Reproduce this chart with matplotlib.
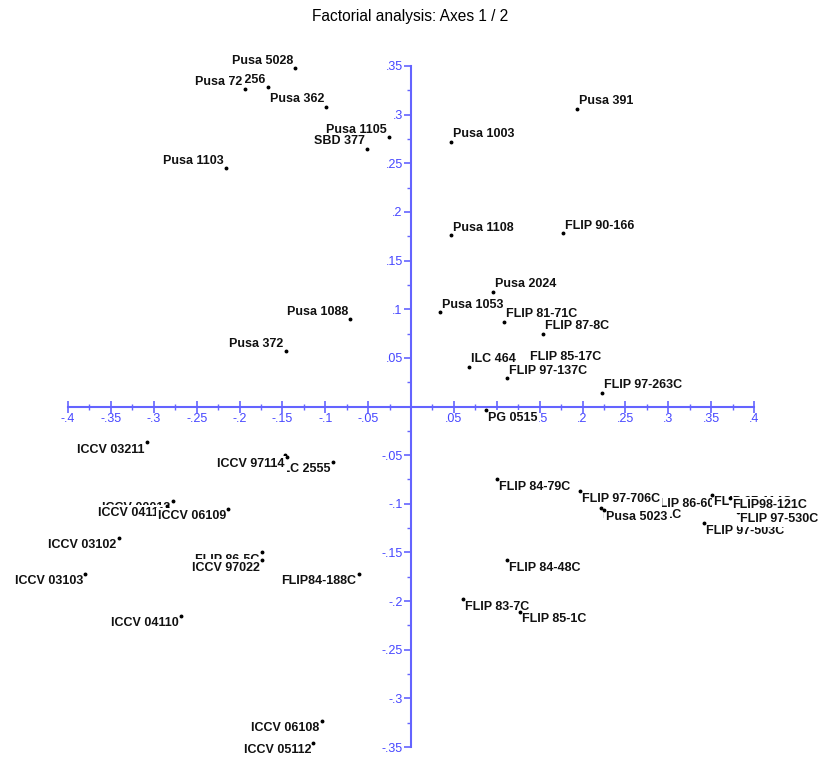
import numpy as np
import matplotlib
matplotlib.use("Agg")
from matplotlib import pyplot as plt
from matplotlib.ticker import MultipleLocator, FuncFormatter

# genotype scores on factorial axes 1 and 2 (drawing order matters for overlaps)
names = ["Pusa 5028", "Pusa 256", "Pusa 72", "Pusa 362", "Pusa 1105", "SBD 377",
         "Pusa 1103", "Pusa 1088", "Pusa 372", "Pusa 391", "Pusa 1003", "Pusa 1108",
         "FLIP 90-166", "Pusa 2024", "Pusa 1053", "FLIP 81-71C", "FLIP 87-8C",
         "ILC 464", "FLIP 85-17C", "FLIP 97-137C", "FLIP 97-263C", "PG 0515",
         "FLIP 84-79C", "FLIP 86-60C", "FLIP 97-706C", "FLIP 98-101C", "Pusa 5023",
         "FLIP 97-503C", "FLIP 97-530C", "FLIP 97-114C", "FLIP98-121C",
         "FLIP 84-48C", "FLIP 83-7C", "FLIP 85-1C", "ICCV 03211", "ILC 2555",
         "ICCV 95311", "ICCV 97114", "ICCV 00013", "ICCV 04111", "ICCV 06109",
         "ICCV 03102", "ICCV 03103", "FLIP 86-5C", "ICCV 97022", "FLIP84-188C",
         "ICCV 04110", "ICCV 06108", "ICCV 05112"]
ax1 = [-0.135, -0.167, -0.194, -0.099, -0.026, -0.051,
       -0.216, -0.071, -0.146, 0.194, 0.047, 0.047,
       0.177, 0.096, 0.034, 0.108, 0.154,
       0.068, 0.136, 0.112, 0.223, 0.087,
       0.100, 0.279, 0.197, 0.222, 0.225,
       0.342, 0.381, 0.351, 0.372,
       0.112, 0.061, 0.127, -0.308, -0.091,
       -0.147, -0.145, -0.278, -0.285, -0.213,
       -0.341, -0.380, -0.174, -0.174, -0.061,
       -0.268, -0.104, -0.114]
ax2 = [0.348, 0.328, 0.326, 0.308, 0.277, 0.265,
       0.245, 0.090, 0.057, 0.306, 0.272, 0.176,
       0.178, 0.118, 0.097, 0.087, 0.075,
       0.041, 0.043, 0.029, 0.014, -0.004,
       -0.075, -0.093, -0.087, -0.104, -0.106,
       -0.120, -0.108, -0.091, -0.094,
       -0.158, -0.198, -0.211, -0.037, -0.057,
       -0.050, -0.052, -0.097, -0.102, -0.105,
       -0.135, -0.172, -0.150, -0.158, -0.172,
       -0.215, -0.323, -0.346]

blue = "#6464ff"
font = "Liberation Sans"

fig = plt.figure(figsize=(8.21, 7.58), dpi=100)
ax = fig.add_axes([68/821, 11/758, 686/821, 681/758])
ax.set_xlim(-0.4, 0.4)
ax.set_ylim(-0.35, 0.35)

for s in ["top", "right"]:
    ax.spines[s].set_visible(False)
ax.spines["left"].set_position("zero")
ax.spines["bottom"].set_position("zero")
for s in ["left", "bottom"]:
    ax.spines[s].set_color(blue)
    ax.spines[s].set_linewidth(1.5)

ax.xaxis.set_major_locator(MultipleLocator(0.05))
ax.xaxis.set_minor_locator(MultipleLocator(0.025))
ax.yaxis.set_major_locator(MultipleLocator(0.05))
ax.yaxis.set_minor_locator(MultipleLocator(0.025))

def fmt(v, pos):
    if abs(v) < 1e-9:
        return ""
    s = ("%.2f" % v).rstrip("0").rstrip(".")
    return s.replace("0.", ".")

ax.xaxis.set_major_formatter(FuncFormatter(fmt))
ax.yaxis.set_major_formatter(FuncFormatter(fmt))
ax.tick_params(axis="x", which="major", direction="inout", length=8, width=1.2,
               color=blue, labelcolor="#4646ff", labelsize=9, pad=1)
ax.tick_params(axis="x", which="minor", direction="inout", length=5, width=1,
               color=blue)
ax.tick_params(axis="y", which="major", direction="out", length=5, width=1.2,
               color=blue, labelcolor="#4646ff", labelsize=9, pad=1)
ax.tick_params(axis="y", which="minor", direction="out", length=3, width=1,
               color=blue)
for lab in ax.get_xticklabels() + ax.get_yticklabels():
    lab.set_fontfamily(font)

# each dot sits just above its own label but under later labels
for i, (n, x, y) in enumerate(zip(names, ax1, ax2)):
    z = 4 + i * 0.01
    ha = "right" if x < 0 else "left"
    va = "bottom" if y > 0 else "top"
    dx = -1.5 if x < 0 else 1.5
    dy = 1 if y > 0 else -1
    ax.annotate(n, (x, y), xytext=(dx, dy), textcoords="offset points",
                ha=ha, va=va, fontsize=9, fontweight="bold", family=font,
                color="#111111", zorder=z, annotation_clip=False,
                bbox=dict(facecolor="white", edgecolor="none", pad=1.5))
    ax.plot(x, y, "o", ms=1.8, color="black", zorder=z + 0.005, clip_on=False)

fig.text(0.5, 1 - 17/758, "Factorial analysis: Axes 1 / 2", ha="center",
         va="center", fontsize=11.2, family=font)

fig.savefig("out.png", dpi=100)
